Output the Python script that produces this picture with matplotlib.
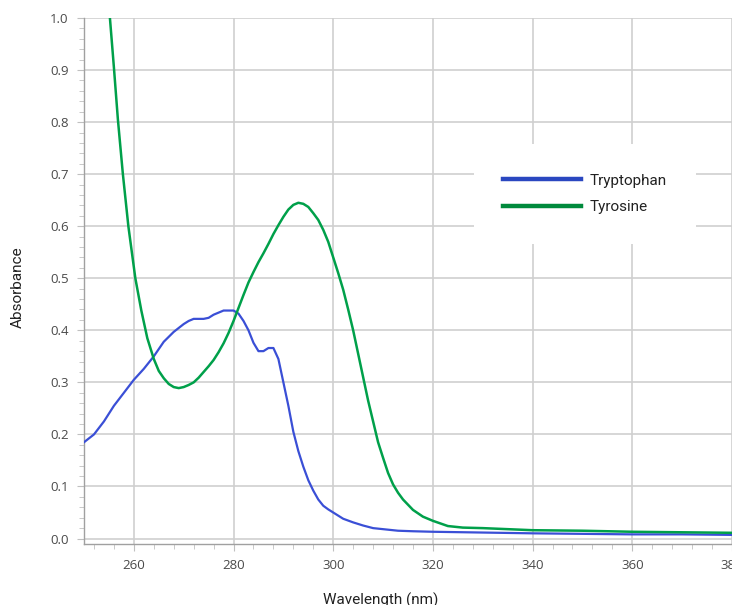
import matplotlib
matplotlib.use("Agg")
import matplotlib.pyplot as plt
from matplotlib.lines import Line2D
from matplotlib.ticker import MultipleLocator

# Tryptophan spectrum (wavelength nm, absorbance)
trp_wl = [250, 252, 254, 256, 258, 260, 262, 264, 266, 268, 270, 271, 272, 274,
          275, 276, 278, 280, 281, 282, 283, 284, 285, 286, 287, 288, 289, 290,
          291, 292, 293, 294, 295, 296, 297, 298, 299, 300, 302, 304, 306, 308,
          310, 313, 316, 320, 330, 340, 350, 360, 370, 380]
trp_abs = [0.185, 0.200, 0.225, 0.255, 0.280, 0.305, 0.326, 0.350, 0.378, 0.397,
           0.412, 0.418, 0.422, 0.422, 0.424, 0.430, 0.438, 0.438, 0.432, 0.418,
           0.400, 0.376, 0.360, 0.360, 0.366, 0.366, 0.345, 0.300, 0.255, 0.205,
           0.168, 0.138, 0.112, 0.092, 0.075, 0.063, 0.056, 0.050, 0.038, 0.031,
           0.025, 0.020, 0.018, 0.015, 0.014, 0.013, 0.0115, 0.010, 0.009, 0.008,
           0.008, 0.007]

# Tyrosine spectrum
tyr_wl = [254.5, 255.2, 256.0, 256.8, 257.8, 258.9, 260.3, 261.5, 262.7, 264,
          265, 266, 267, 268, 269, 270, 271, 272, 273, 274, 275, 276, 277, 278,
          279, 280, 281, 282, 283, 284, 285, 286, 287, 288, 289, 290, 291, 292,
          293, 294, 295, 296, 297, 298, 299, 300, 301, 302, 303, 304, 305, 306,
          307, 308, 309, 310, 311, 312, 313, 314, 316, 318, 320, 323, 326, 330,
          335, 340, 350, 360, 370, 380]
tyr_abs = [1.07, 1.0, 0.905, 0.805, 0.70, 0.60, 0.50, 0.438, 0.385, 0.345, 0.322,
           0.308, 0.297, 0.291, 0.289, 0.291, 0.295, 0.300, 0.309, 0.320, 0.331,
           0.343, 0.358, 0.375, 0.395, 0.418, 0.443, 0.468, 0.492, 0.512, 0.531,
           0.548, 0.566, 0.585, 0.602, 0.618, 0.632, 0.641, 0.645, 0.643, 0.637,
           0.625, 0.612, 0.593, 0.570, 0.540, 0.510, 0.478, 0.440, 0.400, 0.355,
           0.310, 0.265, 0.225, 0.185, 0.155, 0.126, 0.104, 0.088, 0.075, 0.055,
           0.042, 0.034, 0.024, 0.021, 0.020, 0.018, 0.016, 0.015, 0.013, 0.012,
           0.011]

series_names = ["Tryptophan", "Tyrosine"]
line_colors = ["#3a4fd6", "#00a04a"]
legend_colors = ["#2a47c0", "#008a3c"]

fig = plt.figure(figsize=(7.32, 6.05), dpi=100)
ax = fig.add_axes([84 / 732, 61 / 605, 648 / 732, 526 / 605])

ax.plot(trp_wl, trp_abs, color=line_colors[0], lw=1.6, zorder=3)
ax.plot(tyr_wl, tyr_abs, color=line_colors[1], lw=1.8, zorder=3)

ax.set_xlim(250, 380)
ax.set_ylim(-0.0105, 1.0)
ax.xaxis.set_major_locator(MultipleLocator(20))
ax.xaxis.set_minor_locator(MultipleLocator(4))
ax.yaxis.set_major_locator(MultipleLocator(0.1))
ax.yaxis.set_minor_locator(MultipleLocator(0.02))
ax.yaxis.set_major_formatter(matplotlib.ticker.FormatStrFormatter("%.1f"))

ax.grid(True, which="major", color="#cfcfcf", lw=1.2, zorder=0)
ax.set_axisbelow(True)
for side in ("top", "right"):
    ax.spines[side].set_visible(False)
for side in ("left", "bottom"):
    ax.spines[side].set_color("#a0a0a0")
    ax.spines[side].set_linewidth(1.0)

ax.tick_params(which="both", direction="out", color="#c0c0c0", labelcolor="#4a4a4a")
ax.tick_params(which="major", length=5, labelsize=9.5, pad=6)
ax.tick_params(which="minor", length=3.5)
for lbl in ax.get_xticklabels() + ax.get_yticklabels():
    lbl.set_fontfamily("Open Sans")

handles = [Line2D([], [], color=c, lw=3.2) for c in legend_colors]
leg = ax.legend(handles, series_names, loc="center",
                bbox_to_anchor=(585 / 732, 1 - 194 / 605), bbox_transform=fig.transFigure,
                frameon=True, facecolor="white", edgecolor="none", framealpha=1,
                fancybox=False, borderpad=1.9, labelspacing=0.85, handlelength=5.1,
                handletextpad=0.6, borderaxespad=0,
                prop={"family": "Roboto", "size": 11})
for t in leg.get_texts():
    t.set_color("#222222")

fig.text(18 / 732, 1 - 287 / 605, "Absorbance", rotation=90, ha="center", va="center",
         fontsize=11, family="Roboto", color="#222222")
fig.text(381 / 732, 1 - 600 / 605, "Wavelength (nm)", ha="center", va="center",
         fontsize=11, family="Roboto", color="#222222")

fig.savefig("out.png", dpi=100)
